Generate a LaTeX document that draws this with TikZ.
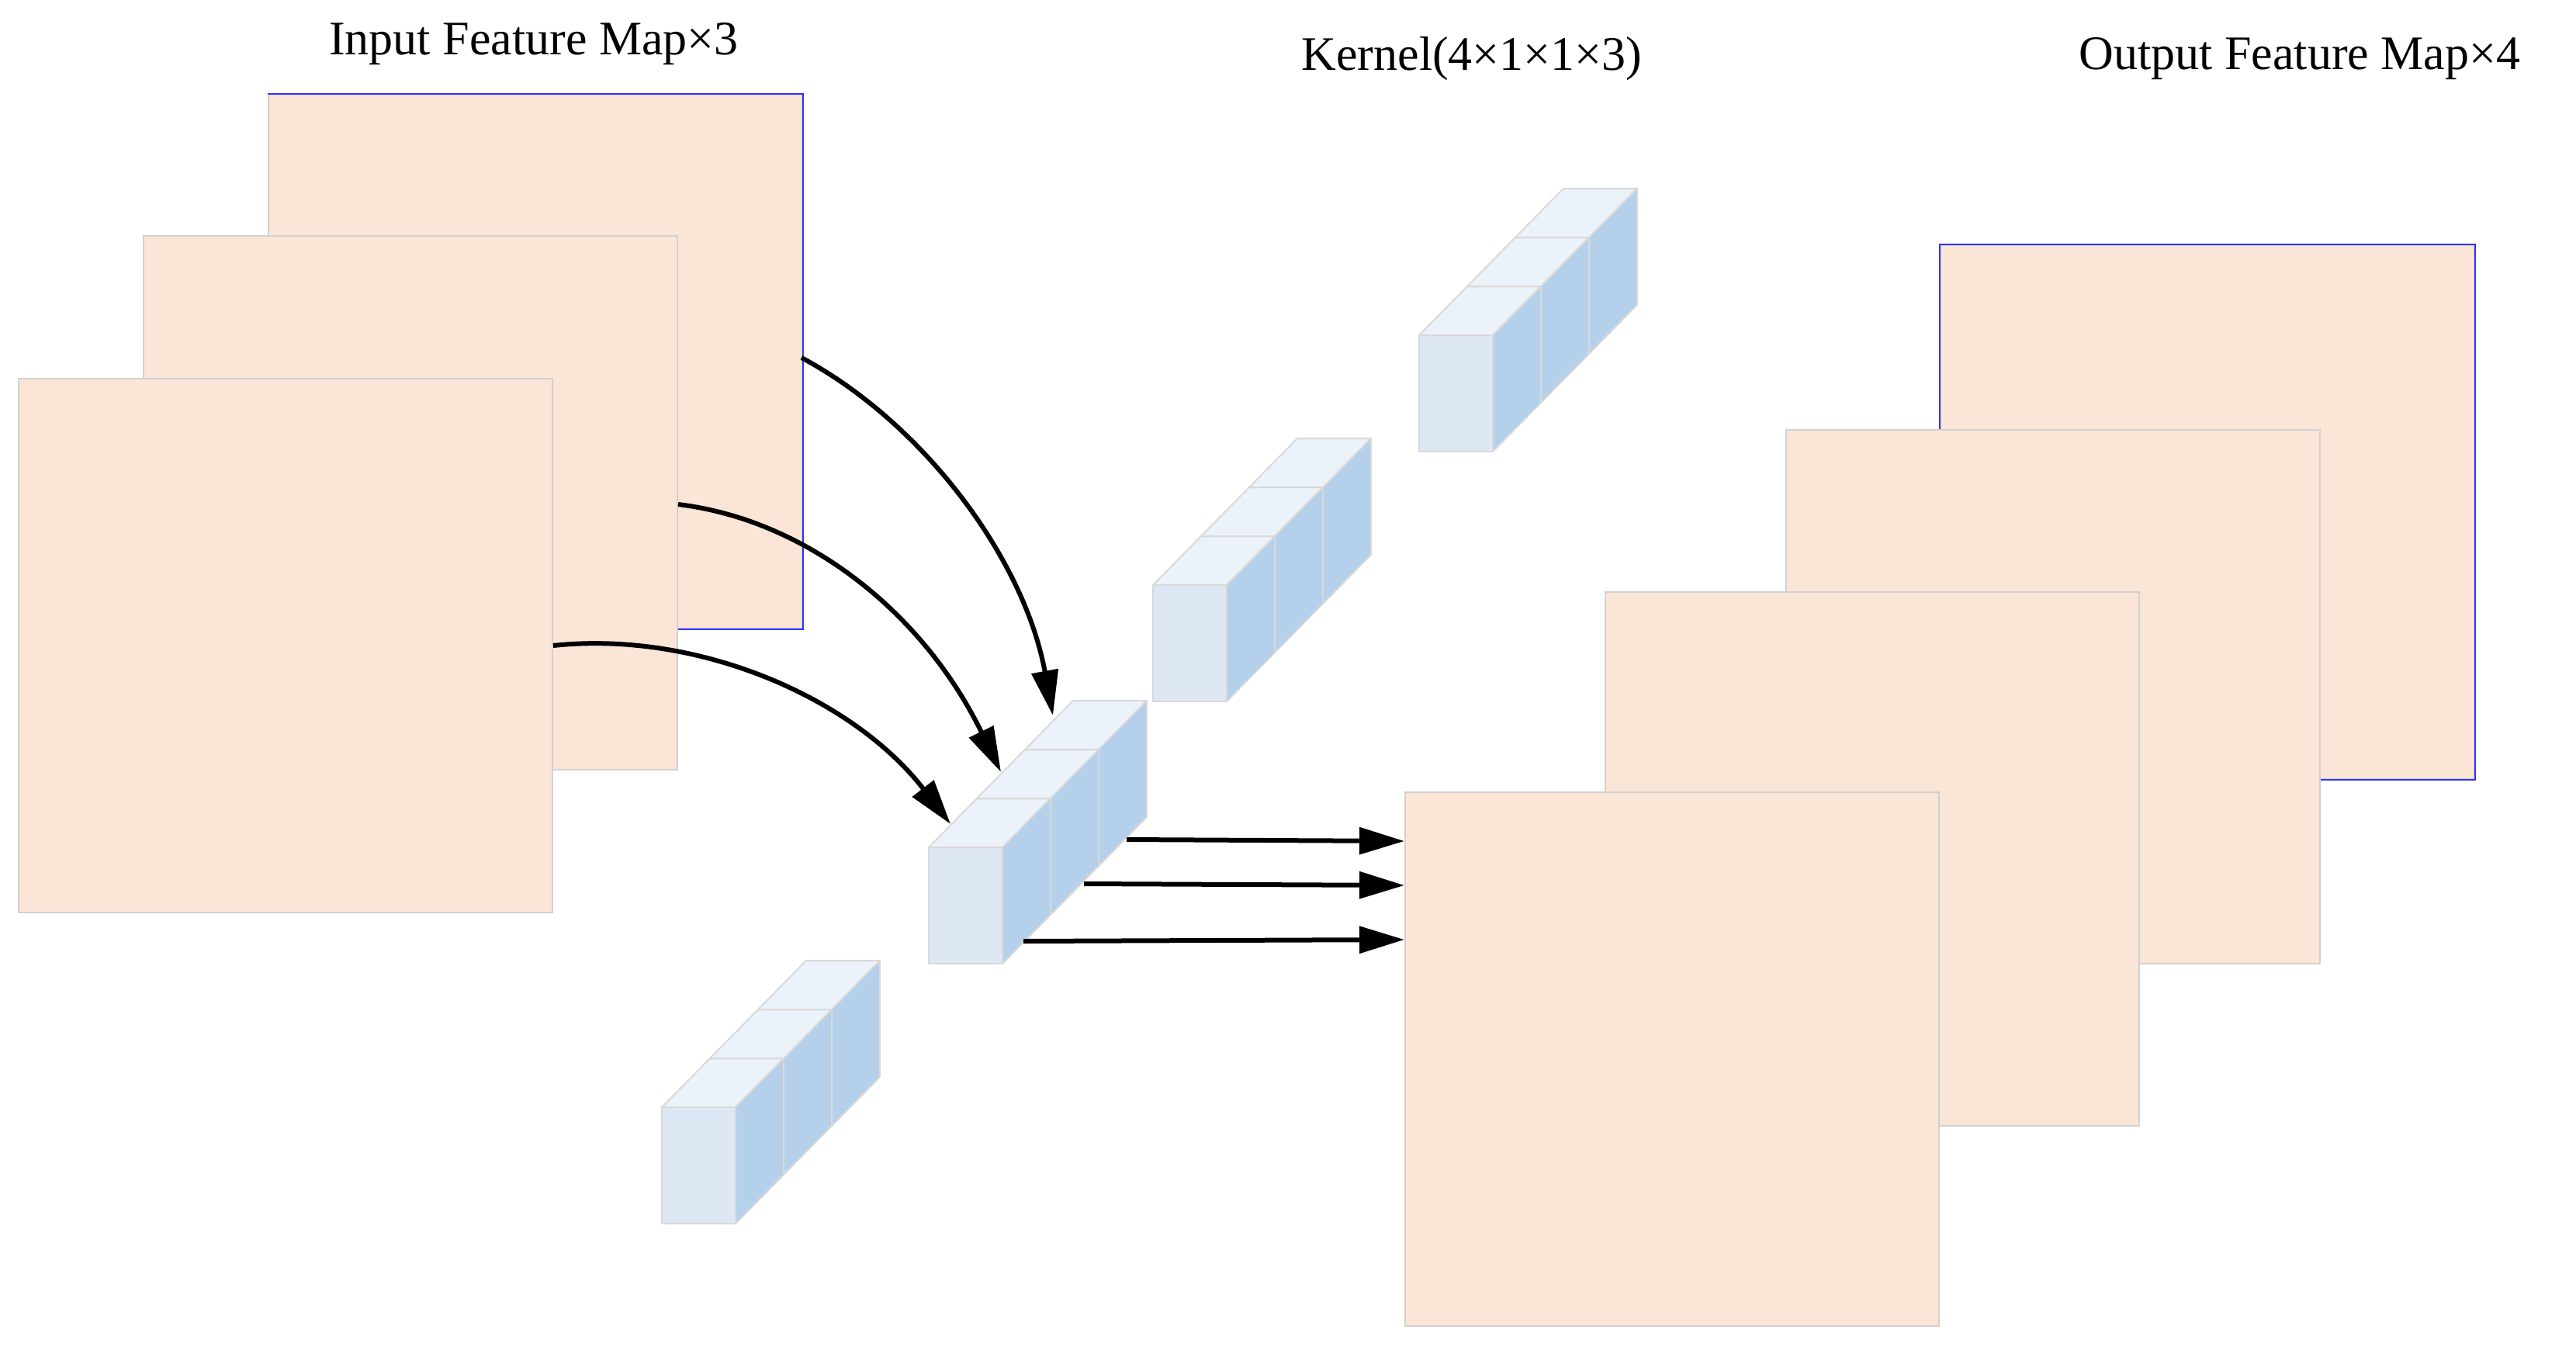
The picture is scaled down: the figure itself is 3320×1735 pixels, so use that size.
\documentclass[tikz,border=0pt]{standalone}
\usepackage{fontspec}
\setmainfont{Liberation Serif}
\usetikzlibrary{arrows.meta}
\begin{document}
\begin{tikzpicture}[x=1pt,y=-1pt,
  fmap/.style={draw=black!18,line width=2pt,fill=mapfill,minimum width=688pt,minimum height=688pt,anchor=north west,inner sep=0pt},
  lbl/.style={font=\fontsize{62}{70}\selectfont,anchor=center},
  arr/.style={line width=6pt,-{Triangle[length=58pt,width=34pt]}},
  kfront/.style={fill=kf,draw=black!15,line width=2pt,line join=round},
  ktop/.style={fill=kt,draw=black!15,line width=2pt,line join=round},
  kside/.style={fill=ks,draw=black!15,line width=2pt,line join=round}]
\definecolor{mapfill}{HTML}{FAE5D6}
\definecolor{kf}{HTML}{DDE8F4}
\definecolor{kt}{HTML}{EBF2FA}
\definecolor{ks}{HTML}{B5D0EA}
\useasboundingbox (0,0) rectangle (3320,1735);
\fill[white] (0,0) rectangle (3320,1735);
\newcommand\kblk[2]{%
  \foreach \i in {0,1,2}{%
    \path[ktop] ({#1+62*\i},{#2-63*\i}) -- ({#1+95+62*\i},{#2-63*\i}) -- ({#1+95+62*(\i+1)},{#2-63*(\i+1)}) -- ({#1+62*(\i+1)},{#2-63*(\i+1)}) -- cycle;
    \path[kside] ({#1+95+62*\i},{#2-63*\i}) -- ({#1+95+62*(\i+1)},{#2-63*(\i+1)}) -- ({#1+95+62*(\i+1)},{#2+150-63*(\i+1)}) -- ({#1+95+62*\i},{#2+150-63*\i}) -- cycle;
  }%
  \path[kfront] (#1,#2) rectangle ({#1+95},{#2+150});
}
% input maps
\node[fmap] (in3) at (345,121) {};
\draw[blue!80,line width=2pt] (in3.north west) -- (in3.north east) -- (in3.south east) -- (in3.south west);
\node[fmap] (in2) at (184,303) {};
\node[fmap] (in1) at (23,487) {};
% output maps
\node[fmap] (out4) at (2500,315) {};
\draw[blue!80,line width=2pt] (out4.south west) -- (out4.north west) -- (out4.north east) -- (out4.south east) -- (out4.south west);
\node[fmap] (out3) at (2301,553) {};
\node[fmap] (out2) at (2068,762) {};
\node[fmap] (out1) at (1810,1020) {};
% kernels
\kblk{1829}{432}
\kblk{1486}{754}
\kblk{853}{1427}
\kblk{1197}{1092}
% labels
\node[lbl] (t1) at (688,57) {Input Feature Map×3};
\node[lbl] (t2) at (1897,76) {Kernel(4×1×1×3)};
\node[lbl] (t3) at (2964,76) {Output Feature Map×4};
% arrow endpoints
\coordinate (s1) at (1033,461); \coordinate (e1) at (1357,922);
\coordinate (s2) at (874,650);  \coordinate (e2) at (1290,995);
\coordinate (s3) at (713,832);  \coordinate (e3) at (1225,1062);
\coordinate (h1) at (1452,1082); \coordinate (g1) at (1810,1084);
\coordinate (h2) at (1397,1139); \coordinate (g2) at (1810,1141);
\coordinate (h3) at (1319,1213); \coordinate (g3) at (1810,1211);
\draw[arr] (s1) .. controls (1190,545) and (1320,720) .. (e1);
\draw[arr] (s2) .. controls (1040,670) and (1190,790) .. (e2);
\draw[arr] (s3) .. controls (900,812) and (1100,900) .. (e3);
\draw[arr] (h1) -- (g1);
\draw[arr] (h2) -- (g2);
\draw[arr] (h3) -- (g3);
\end{tikzpicture}
\end{document}
